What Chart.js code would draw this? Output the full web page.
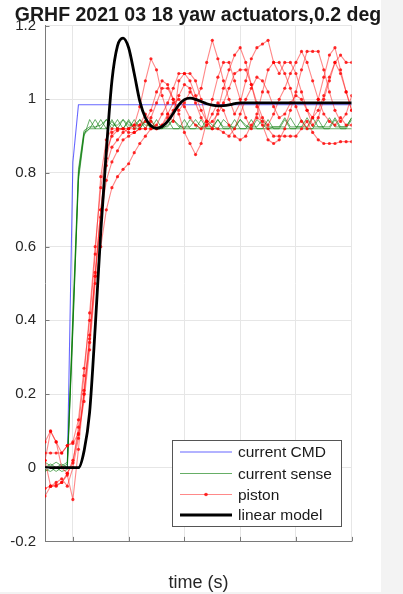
<!DOCTYPE html>
<html>
<head>
<meta charset="utf-8">
<script src="https://cdn.jsdelivr.net/npm/chart.js@4.4.1/dist/chart.umd.min.js"></script>
<style>
  html, body { margin: 0; padding: 0; background: #f3f3f3; }
  #wrap { width: 403px; height: 594px; }
  canvas { display: block; }
</style>
</head>
<body>
<div id="wrap"><canvas id="chart" width="403" height="594"></canvas></div>
<script>
// ── data ──
const timeS = [-0.5, -0.4, -0.3, -0.2, -0.1, 0, 0.1, 0.2, 0.3, 0.4,
  0.5, 0.6, 0.7, 0.8, 0.9, 1.0, 1.1, 1.2, 1.3, 1.4,
  1.5, 1.6, 1.7, 1.8, 1.9, 2.0, 2.1, 2.2, 2.3, 2.4,
  2.5, 2.6, 2.7, 2.8, 2.9, 3.0, 3.1, 3.2, 3.3, 3.4,
  3.5, 3.6, 3.7, 3.8, 3.9, 4.0, 4.1, 4.2, 4.3, 4.4,
  4.5, 4.6, 4.7, 4.8, 4.9, 5.0];

const cmdCurrent = [0, 0, 0, 0, 0, 0.83, 0.985, 0.985, 0.985, 0.985,
  0.985, 0.985, 0.985, 0.985, 0.985, 0.985, 0.985, 0.985, 0.985, 0.985,
  0.985, 0.985, 0.985, 0.985, 0.985, 0.985, 0.985, 0.985, 0.985, 0.985,
  0.985, 0.985, 0.985, 0.985, 0.985, 0.985, 0.985, 0.985, 0.985, 0.985,
  0.985, 0.985, 0.985, 0.985, 0.985, 0.985, 0.985, 0.985, 0.985, 0.985,
  0.985, 0.985, 0.985, 0.985, 0.985, 0.985];

const sense1 = [0.0, 0.01, 0.0, 0.01, 0.0, 0.40, 0.80, 0.91, 0.92, 0.945,
  0.92, 0.945, 0.92, 0.945, 0.92, 0.945, 0.92, 0.945, 0.92, 0.945,
  0.92, 0.92, 0.945, 0.92, 0.92, 0.945, 0.92, 0.92, 0.945, 0.92,
  0.92, 0.945, 0.92, 0.92, 0.945, 0.92, 0.92, 0.945, 0.92, 0.92,
  0.945, 0.92, 0.92, 0.945, 0.92, 0.92, 0.945, 0.92, 0.92, 0.945,
  0.92, 0.92, 0.945, 0.92, 0.92, 0.945];
const sense2 = [-0.01, 0.0, -0.01, 0.0, 0.01, 0.38, 0.78, 0.90, 0.945, 0.92,
  0.945, 0.92, 0.945, 0.92, 0.945, 0.92, 0.945, 0.92, 0.945, 0.92,
  0.945, 0.92, 0.93, 0.945, 0.93, 0.92, 0.945, 0.93, 0.92, 0.945,
  0.93, 0.92, 0.945, 0.93, 0.92, 0.945, 0.93, 0.92, 0.945, 0.93,
  0.92, 0.925, 0.925, 0.925, 0.95, 0.925, 0.925, 0.925, 0.95, 0.925,
  0.925, 0.925, 0.95, 0.925, 0.925, 0.95];
const sense3 = [0.015, 0.005, 0.015, 0.005, 0.015, 0.42, 0.81, 0.915, 0.925, 0.925,
  0.93, 0.945, 0.93, 0.93, 0.945, 0.93, 0.93, 0.945, 0.93, 0.93,
  0.925, 0.925, 0.925, 0.945, 0.925, 0.925, 0.925, 0.945, 0.925, 0.925,
  0.925, 0.945, 0.925, 0.925, 0.925, 0.945, 0.925, 0.925, 0.925, 0.945,
  0.925, 0.925, 0.925, 0.95, 0.925, 0.925, 0.925, 0.95, 0.925, 0.925,
  0.925, 0.95, 0.925, 0.925, 0.925, 0.95];
const sense4 = [-0.005, -0.01, 0.0, -0.01, -0.005, 0.37, 0.79, 0.905, 0.92, 0.92,
  0.92, 0.92, 0.94, 0.92, 0.92, 0.94, 0.92, 0.92, 0.94, 0.92,
  0.92, 0.92, 0.92, 0.92, 0.92, 0.92, 0.92, 0.92, 0.92, 0.92,
  0.92, 0.92, 0.92, 0.92, 0.92, 0.92, 0.92, 0.92, 0.92, 0.92,
  0.92, 0.92, 0.92, 0.92, 0.92, 0.92, 0.92, 0.92, 0.92, 0.92,
  0.92, 0.92, 0.92, 0.92, 0.92, 0.92];

const piston1 = [0.07, 0.10, 0.07, 0.04, 0.06, 0.07, 0.13, 0.27, 0.40, 0.58,
  0.79, 0.89, 0.92, 0.92, 0.92, 0.92, 0.93, 0.98, 1.05, 1.11,
  1.08, 1.01, 0.96, 0.94, 1.05, 1.07, 1.07, 1.05, 1.0, 0.94,
  0.92, 0.97, 1.03, 1.08, 1.12, 1.14, 1.10, 1.04, 0.98, 0.93,
  0.89, 0.88, 0.89, 0.92, 0.97, 1.02, 1.08, 1.13, 1.13, 1.13,
  1.08, 1.02, 0.97, 0.94, 0.96, 1.01];
const piston2 = [0.02, -0.05, -0.05, -0.04, -0.02, -0.086, 0.05, 0.21, 0.36, 0.53,
  0.70, 0.84, 0.91, 0.92, 0.92, 0.91, 0.91, 0.92, 0.92, 0.95,
  0.99, 1.03, 1.03, 1.0, 0.96, 0.91, 0.88, 0.85, 0.88, 0.94,
  1.0, 1.06, 1.10, 1.10, 1.05, 1.0, 0.95, 0.92, 0.96, 1.02,
  1.08, 1.10, 1.10, 1.07, 1.03, 0.98, 0.94, 0.92, 0.95, 1.0,
  1.06, 1.12, 1.14, 1.08, 1.02, 0.97];
const piston3 = [-0.077, -0.05, -0.047, -0.04, -0.015, 0.02, 0.09, 0.18, 0.32, 0.50,
  0.60, 0.70, 0.76, 0.79, 0.81, 0.825, 0.855, 0.88, 0.90, 0.92,
  0.92, 0.93, 0.96, 0.99, 1.0, 0.98, 0.95, 0.93, 0.92, 0.93,
  0.96, 0.99, 0.97, 0.93, 0.90, 0.89, 0.90, 0.93, 0.95, 0.94,
  0.92, 0.90, 0.90, 0.90, 0.90, 0.90, 0.92, 0.94, 0.91, 0.89,
  0.88, 0.88, 0.88, 0.885, 0.885, 0.885];
const piston4 = [0.04, 0.04, 0.04, 0.04, 0.06, 0.066, 0.093, 0.20, 0.35, 0.52,
  0.70, 0.82, 0.87, 0.89, 0.91, 0.92, 0.93, 0.93, 0.94, 0.97,
  1.02, 1.05, 1.04, 1.0, 0.97, 0.99, 1.02, 1.0, 1.03, 1.10,
  1.16, 1.11, 1.05, 1.0, 0.96, 0.99, 1.05, 1.11, 1.14, 1.15,
  1.16, 1.10, 1.07, 1.10, 1.10, 1.07, 1.02, 0.97, 0.93, 0.95,
  1.0, 1.05, 1.10, 1.12, 1.10, 1.10];
const piston5 = [0.02, 0.098, 0.07, 0.0, -0.015, 0.013, 0.11, 0.25, 0.42, 0.60,
  0.76, 0.86, 0.90, 0.915, 0.92, 0.92, 0.92, 0.93, 0.96, 0.94,
  0.92, 0.93, 0.95, 0.97, 1.01, 1.04, 1.03, 0.99, 0.95, 0.93,
  0.94, 0.96, 0.99, 1.03, 1.07, 1.08, 1.08, 1.04, 0.99, 0.95,
  0.93, 0.96, 1.0, 1.03, 1.07, 1.10, 1.13, 1.10, 1.05, 1.0,
  0.96, 0.94, 0.93, 0.95, 0.93, 0.93];
const piston6 = [-0.056, -0.05, -0.04, -0.03, -0.05, 0.0, 0.08, 0.20, 0.34, 0.52,
  0.68, 0.78, 0.83, 0.86, 0.89, 0.90, 0.91, 0.92, 0.92, 0.92,
  0.93, 0.96, 0.99, 1.03, 1.07, 1.07, 1.05, 1.01, 0.97, 0.94,
  0.92, 0.92, 0.91, 0.90, 0.92, 0.96, 1.0, 1.03, 1.06, 1.05,
  1.02, 0.98, 0.95, 0.96, 0.99, 1.01, 1.0, 0.97, 0.95, 0.97,
  1.01, 1.06, 1.10, 1.07, 1.02, 0.97];

const linearModel = [0, 0, 0, 0, 0, 0, 0, 0.045, 0.15, 0.38,
  0.64, 0.86, 1.05, 1.145, 1.166, 1.14, 1.07, 0.995, 0.95, 0.928,
  0.921, 0.926, 0.94, 0.962, 0.985, 0.999, 1.003, 1.0, 0.994, 0.988,
  0.984, 0.982, 0.983, 0.985, 0.988, 0.99, 0.99, 0.99, 0.99, 0.99,
  0.99, 0.99, 0.99, 0.99, 0.99, 0.99, 0.99, 0.99, 0.99, 0.99,
  0.99, 0.99, 0.99, 0.99, 0.99, 0.99];

const xGridTicks = [0, 1, 2, 3, 4, 5];
const yTicks = [-0.2, 0, 0.2, 0.4, 0.6, 0.8, 1, 1.2];
const yTickLabels = ['-0.2', '0', '0.2', '0.4', '0.6', '0.8', '1', '1.2'];

const titleText = 'GRHF 2021 03 18 yaw actuators,0.2 deg';
const xLabel = 'time (s)';

// ── styles ──
const FONT = '"Liberation Sans", Arial, Helvetica, sans-serif';
const BLUE = 'rgba(0,0,255,0.6)';
const GREEN = 'rgba(0,120,0,0.6)';
const RED_LINE = 'rgba(255,20,20,0.5)';
const RED_DOT = 'rgba(255,0,0,0.8)';
const AXIS = '#7a7a7a';

const xy = (ys) => ys.map((y, i) => ({ x: timeS[i], y }));

const datasets = [];
datasets.push({
  label: 'linear model', data: xy(linearModel), borderColor: '#000', borderWidth: 2.8,
  pointRadius: 0, cubicInterpolationMode: 'monotone', order: 1,
});
[piston1, piston2, piston3, piston4, piston5, piston6].forEach((p) => {
  datasets.push({
    label: 'piston', data: xy(p), borderColor: RED_LINE, borderWidth: 1.1,
    pointRadius: 1.6, pointBackgroundColor: RED_DOT, pointBorderWidth: 0, tension: 0, order: 2,
  });
});
[sense1, sense2, sense3, sense4].forEach((s) => {
  datasets.push({
    label: 'current sense', data: xy(s), borderColor: GREEN, borderWidth: 1,
    pointRadius: 0, tension: 0, order: 3,
  });
});
datasets.push({
  label: 'current CMD', data: xy(cmdCurrent), borderColor: BLUE, borderWidth: 1.1,
  pointRadius: 0, tension: 0, order: 4,
});

// background, inner tick marks, titles and legend
const decor = {
  id: 'decor',
  beforeDraw(chart) {
    const { ctx } = chart;
    ctx.save();
    ctx.fillStyle = '#f3f3f3';
    ctx.fillRect(0, 0, chart.width, chart.height);
    ctx.fillStyle = '#fff';
    ctx.fillRect(0, 0, 381, 592);
    ctx.restore();
  },
  afterDraw(chart) {
    const { ctx, chartArea: a, scales } = chart;
    ctx.save();
    // inward tick marks
    ctx.strokeStyle = AXIS;
    ctx.lineWidth = 1;
    ctx.beginPath();
    yTicks.forEach((v) => {
      const y = Math.round(scales.y.getPixelForValue(v)) + 0.5;
      ctx.moveTo(a.left, y); ctx.lineTo(a.left + 4.5, y);
    });
    xGridTicks.forEach((v) => {
      const x = Math.round(scales.x.getPixelForValue(v)) + 0.5;
      ctx.moveTo(x, a.bottom); ctx.lineTo(x, a.bottom - 4.5);
    });
    ctx.stroke();

    // title
    ctx.fillStyle = '#1a1a1a';
    ctx.textAlign = 'center';
    ctx.textBaseline = 'alphabetic';
    ctx.font = `bold 19.5px ${FONT}`;
    ctx.fillText(titleText, 198, 21);
    // x label
    ctx.fillStyle = '#262626';
    ctx.font = `18px ${FONT}`;
    ctx.fillText(xLabel, 198.5, 588);

    // legend
    const bx = 172.5, by = 440.5, bw = 169, bh = 86;
    ctx.fillStyle = '#fff';
    ctx.fillRect(bx, by, bw, bh);
    ctx.strokeStyle = '#555';
    ctx.strokeRect(bx, by, bw, bh);
    const rows = [
      { text: 'current CMD', color: BLUE, w: 1.1, y: 452 },
      { text: 'current sense', color: GREEN, w: 1.2, y: 473.5 },
      { text: 'piston', color: RED_LINE, w: 1.1, y: 494.5, dot: true },
      { text: 'linear model', color: '#000', w: 2.8, y: 515 },
    ];
    ctx.font = `15.5px ${FONT}`;
    ctx.textAlign = 'left';
    ctx.textBaseline = 'middle';
    rows.forEach((r) => {
      ctx.strokeStyle = r.color;
      ctx.lineWidth = r.w;
      ctx.beginPath();
      ctx.moveTo(180, r.y); ctx.lineTo(232, r.y);
      ctx.stroke();
      if (r.dot) {
        ctx.fillStyle = RED_DOT;
        ctx.beginPath();
        ctx.arc(206, r.y, 1.8, 0, Math.PI * 2);
        ctx.fill();
      }
      ctx.fillStyle = '#1a1a1a';
      ctx.fillText(r.text, 238, r.y + 1);
    });
    ctx.restore();
  },
};

new Chart(document.getElementById('chart'), {
  type: 'line',
  data: { datasets },
  plugins: [decor],
  options: {
    responsive: false,
    animation: false,
    events: [],
    layout: { padding: { left: 0, top: 25.6, right: 51.3, bottom: 52.6 } },
    plugins: { legend: { display: false }, tooltip: { enabled: false }, title: { display: false } },
    scales: {
      x: {
        type: 'linear', min: -0.5, max: 5,
        afterBuildTicks: (s) => { s.ticks = xGridTicks.map((v) => ({ value: v })); },
        afterFit: (s) => { s.height = 0; },
        ticks: { display: false },
        grid: { color: '#e6e6e6', drawTicks: false },
        border: { display: true, color: AXIS, width: 1 },
      },
      y: {
        type: 'linear', min: -0.2, max: 1.2,
        afterBuildTicks: (s) => { s.ticks = yTicks.map((v) => ({ value: v })); },
        afterFit: (s) => { s.width = 45; },
        ticks: {
          padding: 9, color: '#262626', font: { family: FONT, size: 15 },
          callback: (v, i) => yTickLabels[i],
        },
        grid: { color: '#e6e6e6', drawTicks: false },
        border: { display: true, color: AXIS, width: 1 },
      },
    },
  },
});
</script>
</body>
</html>
